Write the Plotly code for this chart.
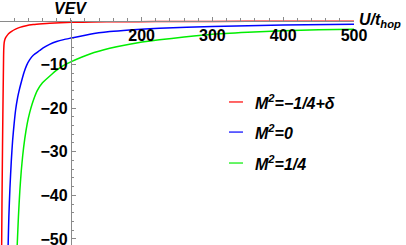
import plotly.graph_objects as go

# ---- data ----
red_x = [2.3, 2.8, 3.3, 3.8, 4.3, 4.7, 5.0, 5.3, 5.9, 7.0, 8.2, 9.4, 12, 16.4, 22, 28, 37, 47,
         60, 70, 85, 101, 130, 170, 220, 300, 400, 500]
red_y = [-52, -42, -33, -25, -18, -13, -9, -6.5, -5.0, -4.2, -3.8, -3.5, -2.95, -2.4, -1.9, -1.5,
         -1.1, -0.85, -0.65, -0.53, -0.42, -0.33, -0.26, -0.2, -0.16, -0.12, -0.1, -0.08]

blue_x = [11.3, 11.7, 12.5, 14, 16, 17.8, 20, 22, 25, 27, 30.5, 34, 37.6, 42, 47, 56, 61, 70, 80,
          90, 100, 127, 155, 183, 225, 300, 400, 500]
blue_y = [-53, -50, -45, -38.5, -32, -27.5, -23.5, -20.5, -17.5, -16, -13.8, -11.8, -10.2, -8.9,
          -7.9, -6.8, -6.2, -5.4, -4.75, -4.3, -3.95, -3.05, -2.45, -2.07, -1.67, -1.27, -0.97, -0.8]

green_x = [23.8, 24.4, 26, 28, 30, 32, 35, 38.5, 42, 45.5, 52.6, 60, 70, 80, 90, 100, 127, 155, 183,
           225, 260, 300, 350, 400, 450, 500]
green_y = [-53, -51, -45, -39, -34.5, -31, -27, -23.5, -21, -19, -16, -14.2, -12.7, -11.3, -10.2,
           -9.4, -7.6, -6.3, -5.35, -4.35, -3.7, -3.05, -2.6, -2.25, -2.05, -1.9]

series_names = ["M<sup>2</sup>=\u22121/4+\u03b4", "M<sup>2</sup>=0", "M<sup>2</sup>=1/4"]
series_colors = ["#ff0000", "#0000ff", "#00ee00"]

x_tick_vals = [200, 300, 400, 500]
x_tick_text = ["200", "300", "400", "500"]
x_minor_vals = [v for v in range(20, 500, 20) if v % 100 != 0] + [100]
y_tick_vals = [-50, -40, -30, -20, -10]
y_tick_text = ["\u221250", "\u221240", "\u221230", "\u221220", "\u221210"]
y_minor_vals = [v for v in range(-50, 1, 2) if v % 10 != 0]

X_RANGE = [0, 500]
Y_RANGE = [-51.4, 0.2]
Y_AXIS_AT_X = 100

FONT = "Liberation Sans"
AXIS_COLOR = "#8a8a8a"


def px(v):
    return (v - X_RANGE[0]) / (X_RANGE[1] - X_RANGE[0])


def py(v):
    return (v - Y_RANGE[0]) / (Y_RANGE[1] - Y_RANGE[0])


fig = go.Figure()
for xs, ys, name, col in zip([red_x, blue_x, green_x], [red_y, blue_y, green_y],
                             series_names, series_colors):
    fig.add_trace(go.Scatter(x=xs, y=ys, mode="lines", name=name, showlegend=False,
                             line=dict(color=col, width=1.5, shape="spline", smoothing=0.6)))

tickfont = dict(family=FONT, size=16, color="black", weight="bold")

fig.update_layout(
    width=406, height=245,
    margin=dict(l=0, r=52, t=20, b=0, autoexpand=False),
    paper_bgcolor="white", plot_bgcolor="white",
    showlegend=False,
    xaxis=dict(range=X_RANGE, anchor="free", position=py(0), showgrid=False, zeroline=False,
               automargin=False, ticklabeloverflow="allow",
               showline=True, linecolor=AXIS_COLOR, linewidth=1,
               tickmode="array", tickvals=x_tick_vals, ticktext=x_tick_text,
               ticks="inside", ticklen=4, tickcolor=AXIS_COLOR, tickfont=tickfont,
               minor=dict(tickmode="array", tickvals=x_minor_vals, ticks="inside",
                          ticklen=2.5, tickcolor=AXIS_COLOR)),
    yaxis=dict(range=Y_RANGE, anchor="free", position=px(Y_AXIS_AT_X), showgrid=False,
               zeroline=False, automargin=False, ticklabeloverflow="allow",
               showline=True, linecolor=AXIS_COLOR, linewidth=1,
               tickmode="array", tickvals=y_tick_vals, ticktext=y_tick_text,
               ticks="inside", ticklen=4, tickcolor=AXIS_COLOR, tickfont=tickfont,
               minor=dict(tickmode="array", tickvals=y_minor_vals, ticks="inside",
                          ticklen=2.5, tickcolor=AXIS_COLOR)),
)

labfont = dict(family=FONT, size=16, color="black", weight="bold", style="italic")
fig.add_annotation(x=px(Y_AXIS_AT_X), y=py(2.9), xref="paper", yref="paper", text="VEV",
                   showarrow=False, font=labfont, xanchor="center", yanchor="middle")
fig.add_annotation(x=px(504), y=py(0.1), xref="paper", yref="paper",
                   text="U/t<sub>hop</sub>", showarrow=False,
                   font=labfont, xanchor="left", yanchor="middle")

# legend (manual, Mathematica-style)
leg_y = [-18.6, -25.5, -32.6]
for name, col, ly in zip(series_names, series_colors, leg_y):
    fig.add_shape(type="line", xref="x", yref="y", x0=323.4, x1=343.2, y0=ly, y1=ly,
                  line=dict(color=col, width=1.2))
    fig.add_annotation(x=357.3, y=ly, xref="x", yref="y", text=name, showarrow=False,
                       font=labfont, xanchor="left", yanchor="middle")

fig.write_html("out.html", config={"displayModeBar": False},
               post_script="document.body.style.margin='0';document.body.style.overflow='hidden';")
